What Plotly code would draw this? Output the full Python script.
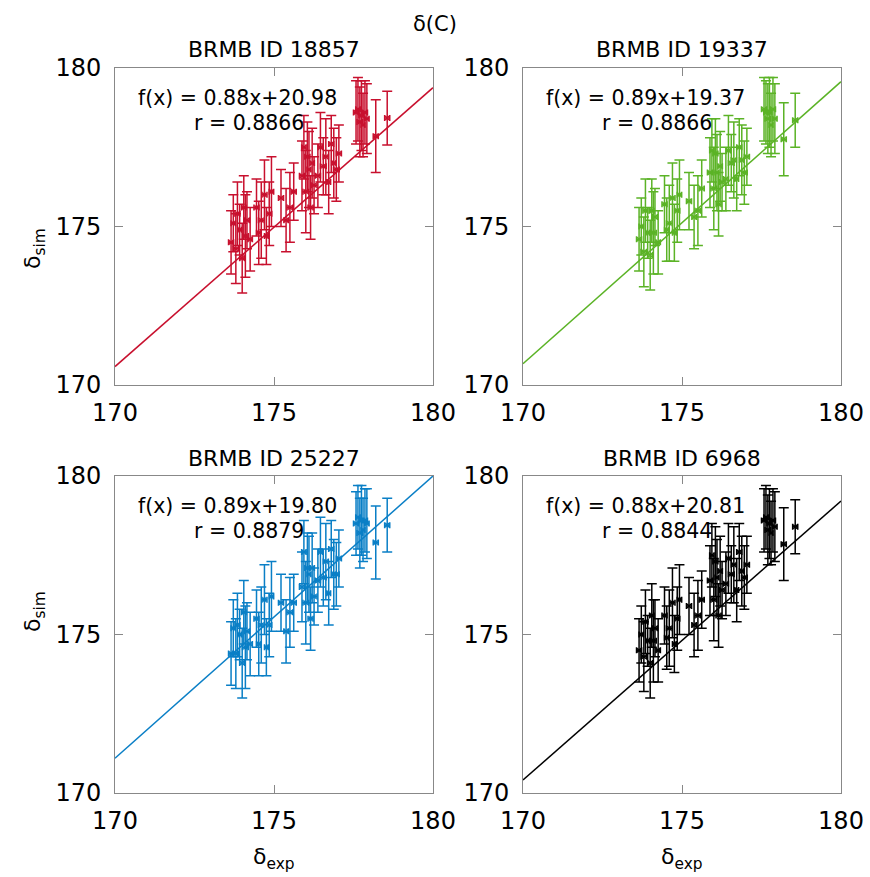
import plotly.graph_objects as go
from plotly.subplots import make_subplots

# Experimental shifts (shared across the four entries) and uncertainties
delta_exp = [173.65, 173.72, 173.80, 173.85, 173.92, 174.00, 174.05, 174.10, 174.15, 174.25,
             174.45, 174.52, 174.60, 174.70, 174.76, 174.85, 174.92,
             175.22, 175.38, 175.50, 175.62,
             175.88, 175.94, 176.00, 176.05, 176.10, 176.15, 176.20, 176.26,
             176.38, 176.46, 176.55, 176.63, 176.72, 176.80, 176.88, 176.96, 177.04,
             177.58, 177.64, 177.70, 177.75, 177.80, 177.86, 177.92,
             178.20, 178.56]
err_exp = [0.08, 0.07, 0.09, 0.08, 0.06, 0.08, 0.07, 0.09, 0.08, 0.07,
           0.08, 0.07, 0.09, 0.08, 0.06, 0.08, 0.07,
           0.08, 0.07, 0.09, 0.08,
           0.08, 0.07, 0.09, 0.08, 0.06, 0.08, 0.07, 0.09,
           0.08, 0.07, 0.09, 0.08, 0.06, 0.08, 0.07, 0.09, 0.08,
           0.08, 0.07, 0.09, 0.08, 0.06, 0.08, 0.07,
           0.08, 0.08]
err_sim = [1.0, 0.9, 1.1, 1.0, 0.8, 1.1, 1.0, 1.3, 0.9, 1.0,
           0.9, 1.0, 1.2, 1.1, 0.9, 1.0, 1.1,
           0.9, 1.0, 1.1, 0.9,
           1.1, 1.0, 1.3, 1.1, 1.2, 1.0, 1.1, 0.9,
           1.0, 1.1, 0.9, 1.2, 1.0, 0.9, 1.1, 1.0, 0.9,
           1.0, 1.0, 1.1, 1.1, 1.0, 1.0, 1.1,
           1.15, 0.85]

sim_18857 = [174.5, 175.1, 174.3, 175.4, 174.9, 174.0, 175.6, 174.7, 175.2, 174.6,
             175.6, 174.8, 175.2, 176.0, 174.7, 175.4, 176.1,
             175.9, 175.2, 175.6, 176.1,
             176.6, 177.5, 176.1, 177.2, 176.8, 175.6, 177.0, 176.3,
             176.6, 177.5, 176.9, 177.2, 176.4, 177.6, 177.0, 176.8, 177.3,
             178.6, 178.7, 178.3, 178.5, 178.2, 178.6, 178.4,
             177.85, 178.42]
sim_19337 = [174.6, 175.0, 174.2, 175.5, 174.8, 174.1, 175.5, 174.8, 175.3, 174.5,
             175.7, 174.9, 175.1, 175.9, 174.8, 175.5, 176.0,
             175.8, 175.3, 175.5, 176.2,
             176.7, 177.4, 176.2, 177.3, 176.7, 175.7, 176.9, 176.4,
             176.5, 177.4, 177.0, 177.1, 176.5, 177.5, 177.1, 176.7, 177.2,
             178.7, 178.6, 178.4, 178.6, 178.2, 178.7, 178.4,
             177.75, 178.35]
sim_25227 = [174.4, 175.2, 174.4, 175.3, 175.0, 174.1, 175.7, 174.6, 175.1, 174.7,
             175.5, 174.7, 175.3, 176.1, 174.6, 175.3, 176.2,
             176.0, 175.1, 175.7, 176.0,
             176.5, 177.6, 176.0, 177.1, 176.9, 175.5, 177.1, 176.2,
             176.7, 177.6, 176.8, 177.3, 176.3, 177.7, 176.9, 176.9, 177.4,
             178.5, 178.7, 178.2, 178.6, 178.3, 178.6, 178.5,
             177.9, 178.45]
sim_6968 = [174.5, 175.0, 174.3, 175.4, 174.8, 174.1, 175.6, 174.8, 175.2, 174.5,
            175.6, 174.9, 175.2, 176.0, 174.7, 175.5, 176.1,
            175.9, 175.3, 175.6, 176.1,
            176.7, 177.5, 176.1, 177.3, 176.8, 175.6, 177.0, 176.4,
            176.6, 177.4, 176.9, 177.2, 176.4, 177.6, 177.0, 176.8, 177.2,
            178.6, 178.7, 178.3, 178.5, 178.2, 178.6, 178.4,
            177.85, 178.4]

entries = ["BRMB ID 18857", "BRMB ID 19337", "BRMB ID 25227", "BRMB ID 6968"]
sim_values = [sim_18857, sim_19337, sim_25227, sim_6968]
slopes = [0.88, 0.89, 0.89, 0.88]
intercepts = [20.98, 19.37, 19.80, 20.81]
r_values = [0.8866, 0.8866, 0.8879, 0.8844]
colors = ["#c8102e", "#5bb326", "#0a7fc6", "#000000"]

axis_range = [170, 180]
tick_vals = [170, 175, 180]

W, H = 870, 877
FONT = "DejaVu Sans"

fig = make_subplots(rows=2, cols=2)

# panel domains in pixels: (left, right, top, bottom)
panels = [(115, 433, 68, 385), (523, 841, 68, 385),
          (115, 433, 476, 793), (523, 841, 476, 793)]

for i in range(4):
    row, col = i // 2 + 1, i % 2 + 1
    c = colors[i]
    fig.add_trace(go.Scatter(
        x=delta_exp, y=sim_values[i], mode="markers",
        marker=dict(symbol="x-thin", size=4, color=c, line=dict(width=1.5, color=c)),
        error_y=dict(type="data", array=err_sim, color=c, thickness=1.5, width=5),
        error_x=dict(type="data", array=err_exp, color=c, thickness=1.5, width=3),
        showlegend=False, cliponaxis=True), row=row, col=col)
    xs = list(axis_range)
    ys = [slopes[i] * v + intercepts[i] for v in xs]
    fig.add_trace(go.Scatter(x=xs, y=ys, mode="lines",
                             line=dict(color=c, width=1.5), showlegend=False),
                  row=row, col=col)

    l, r, t, b = panels[i]
    xa = "xaxis" if i == 0 else f"xaxis{i + 1}"
    ya = "yaxis" if i == 0 else f"yaxis{i + 1}"
    common = dict(range=axis_range, tickvals=tick_vals, showgrid=False, zeroline=False,
                  showline=True, linecolor="#888888", linewidth=1, mirror="ticks",
                  ticks="inside", ticklen=8, tickcolor="#888888", automargin=False,
                  tickfont=dict(family=FONT, size=24, color="black"))
    fig.layout[xa].update(domain=[l / W, r / W], ticklabelstandoff=6, **common)
    fig.layout[ya].update(domain=[1 - b / H, 1 - t / H], ticklabelstandoff=8, **common)

    xref = "x" if i == 0 else f"x{i + 1}"
    yref = "y" if i == 0 else f"y{i + 1}"
    fig.add_annotation(x=170.66, y=179.05, xref=xref, yref=yref, xanchor="left",
                       yanchor="middle", showarrow=False,
                       text=f"f(x) = {slopes[i]:.2f}x+{intercepts[i]:.2f}",
                       font=dict(family=FONT, size=20.5, color="black"))
    fig.add_annotation(x=172.42, y=178.27, xref=xref, yref=yref, xanchor="left",
                       yanchor="middle", showarrow=False,
                       text=f"r = {r_values[i]:.4f}",
                       font=dict(family=FONT, size=20.5, color="black"))
    # panel title
    fig.add_annotation(x=(l + r) / 2 / W, y=1 - (t - 18) / H, xref="paper", yref="paper",
                       showarrow=False, text=entries[i], xanchor="center", yanchor="middle",
                       font=dict(family=FONT, size=22, color="black"))

# axis titles
for py in (226, 634):
    fig.add_annotation(x=18 / W, y=1 - py / H, xref="paper", yref="paper", showarrow=False,
                       text="δ<sub>sim</sub>", textangle=-90,
                       font=dict(family=FONT, size=22, color="black"))
for px in (274, 682):
    fig.add_annotation(x=px / W, y=0, xref="paper", yref="paper", showarrow=False,
                       xanchor="center", yanchor="bottom", yshift=2,
                       text="δ<sub>exp</sub>",
                       font=dict(family=FONT, size=22, color="black"))

fig.add_annotation(x=435 / W, y=1 - 10 / H, xref="paper", yref="paper", showarrow=False,
                   xanchor="center", yanchor="top",
                   text="δ(C)", font=dict(family=FONT, size=21, color="black"))

fig.update_layout(width=W, height=H, margin=dict(l=0, r=0, t=0, b=0),
                  plot_bgcolor="white", paper_bgcolor="white")

fig.write_html("out.html")
